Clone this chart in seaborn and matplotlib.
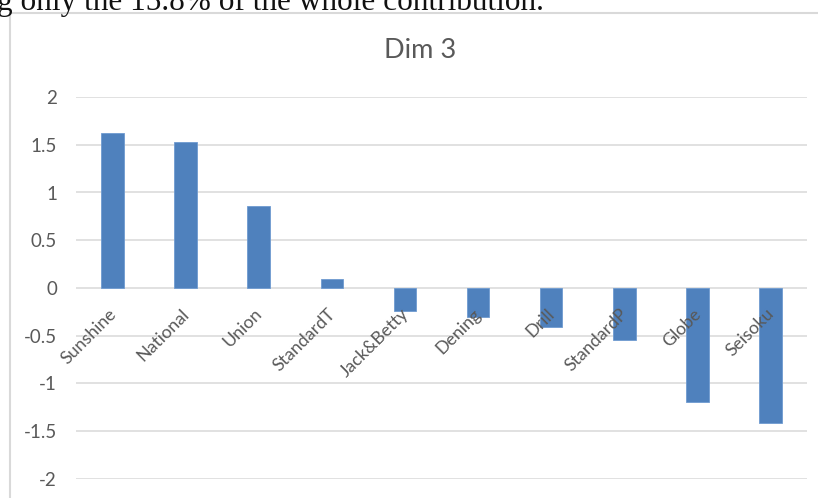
import matplotlib
matplotlib.use("Agg")
import matplotlib.pyplot as plt
import seaborn as sns
import pandas as pd
from matplotlib.patches import Rectangle

categories = ["Sunshine", "National", "Union", "StandardT", "Jack&Betty",
              "Dening", "Drill", "StandardP", "Globe", "Seisoku"]
values = [1.625, 1.53, 0.855, 0.094, -0.24, -0.30, -0.41, -0.54, -1.19, -1.41]
yticks = [2, 1.5, 1, 0.5, 0, -0.5, -1, -1.5, -2]
ytick_labels = ["2", "1.5", "1", "0.5", "0", "-0.5", "-1", "-1.5", "-2"]
title = "Dim 3"
caption = "g only the 15.8% of the whole contribution."

sns.set_theme(style="white")
plt.rcParams["font.family"] = ["Lato", "DejaVu Sans"]

W, H = 818, 498
fig = plt.figure(figsize=(W / 100, H / 100), dpi=100)
fig.patch.set_facecolor("white")

# chart frame
fig.patches.append(Rectangle((10 / W, -0.05), 1.2, 1 - 13 / H + 0.05,
                             transform=fig.transFigure, fill=False,
                             edgecolor="#d9d9d9", linewidth=1.5, zorder=0))

# document caption cut off at top
fig.text(-3 / W, 1 - 10 / H, caption, family=["Liberation Serif", "DejaVu Serif"],
         fontsize=22.5, color="#111111", ha="left", va="baseline")

ax = fig.add_axes([76 / W, 1 - 479 / H, (807 - 76) / W, (479 - 97) / H])
df = pd.DataFrame({"cat": categories, "val": values})
sns.barplot(data=df, x="cat", y="val", ax=ax, color="#4f81bd", saturation=1,
            width=0.31, edgecolor="#6f9bd1", linewidth=0.6, zorder=3)
ax.set_ylim(-2, 2)
ax.set_xlim(-0.5, len(categories) - 0.5)
ax.set_yticks(yticks)
ax.set_yticklabels(ytick_labels, fontsize=13.5, color="#595959")
ax.tick_params(axis="y", length=0, pad=13.7)
ax.set_xticks([])
ax.set_xlabel("")
ax.set_ylabel("")
for s in ax.spines.values():
    s.set_visible(False)
for yv in yticks:
    ax.axhline(yv, color="#d9d9d9", linewidth=1.1, zorder=1)

for i, c in enumerate(categories):
    ax.annotate(c, xy=(i, 0), xytext=(-3.5, -12.7), textcoords="offset points",
                rotation=45, rotation_mode="anchor", ha="right", va="top",
                fontsize=12.8, color="#595959", zorder=4)

fig.text(420 / W, 1 - 51 / H, title, ha="center", va="center",
         fontsize=19.5, color="#595959")

fig.savefig("out.png", dpi=100)
